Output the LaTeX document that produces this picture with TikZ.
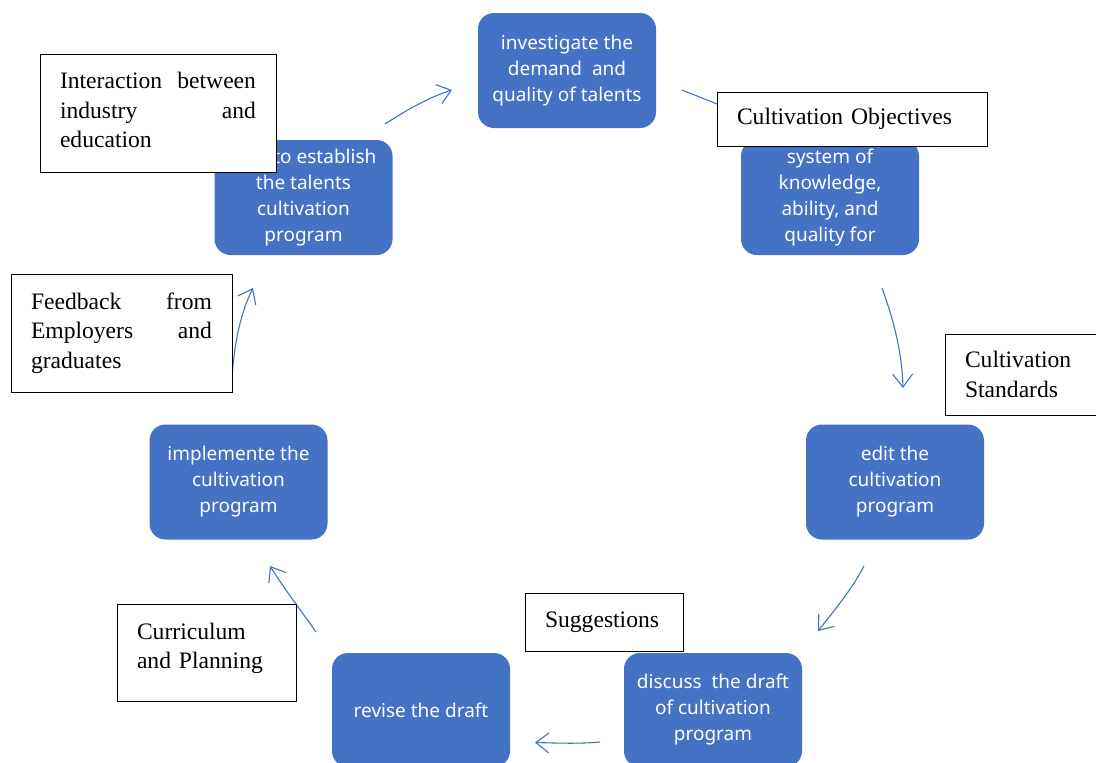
\documentclass[tikz,border=0pt]{standalone}
\usepackage{fontspec}
\setmainfont{Liberation Serif}
\newfontfamily\boxsans{Noto Sans}
\usetikzlibrary{arrows.meta}
\definecolor{bfill}{HTML}{4472C4}
\tikzset{
  stepbox/.style={rounded corners=16pt, fill=bfill, minimum width=178pt, minimum height=115pt,
    text=white, font=\boxsans\fontsize{19}{26}\selectfont, align=center, inner sep=0pt},
  note/.style={draw=black, line width=1pt, fill=white, font=\fontsize{23.6}{29.5}\selectfont,
    inner xsep=20pt, inner ysep=0pt, align=left},
  arr/.style={draw=bfill, line width=1.1pt, -{Straight Barb[length=13pt,width=20pt,line width=1.1pt]}},
  plain/.style={draw=bfill, line width=1.1pt}
}
\begin{document}
\begin{tikzpicture}[x=1pt,y=-1pt]
\path[use as bounding box, clip] (0,0) rectangle (1096,763);
\fill[white] (0,0) rectangle (1096,763);
% process boxes
\node[stepbox] (inv) at (567,70.5) {investigate the\\demand\ \ and\\quality of talents};
\node[stepbox] (sys) at (830,197.5) {system of\\knowledge,\\ability, and\\quality for};
\node[stepbox] (est) at (303.5,197.5) {\phantom{how }to establish\\the talents\\cultivation\\program};
\node[stepbox] (edit) at (895,482) {edit the\\cultivation\\program};
\node[stepbox] (impl) at (238.5,482) {implemente the\\cultivation\\program};
\node[stepbox, minimum height=114pt] (disc) at (713,710) {discuss\ \ the draft\\of cultivation\\program};
\node[stepbox, minimum height=114pt] (rev) at (421,710) {revise the draft};
% connector coordinates
\coordinate (a1) at (385,124); \coordinate (a2) at (452,90);
\coordinate (b1) at (682,90);  \coordinate (b2) at (722,106);
\coordinate (c1) at (882,288); \coordinate (c2) at (903,388);
\coordinate (d1) at (864,566); \coordinate (d2) at (818,631);
\coordinate (e1) at (600,742); \coordinate (e2) at (535,742.5);
\coordinate (f1) at (316,632); \coordinate (f2) at (270,566);
\coordinate (g1) at (232,380); \coordinate (g2) at (253,288);
\draw[arr] (a1) .. controls (410,108) and (430,97) .. (a2);
\draw[plain] (b1) -- (b2);
\draw[arr] (c1) .. controls (892,315) and (902,350) .. (c2);
\draw[arr] (d1) .. controls (853,588) and (833,612) .. (d2);
\draw[arr] (e1) .. controls (580,744) and (555,743) .. (e2);
\draw[arr] (f1) .. controls (305,616) and (285,590) .. (f2);
\draw[arr] (g1) .. controls (234,340) and (242,310) .. (g2);
% notes
\node[note, text width=196pt, minimum height=118pt] (inter) at (158,113)
  {\raisebox{3pt}[\height][\depth]{\parbox{196pt}{Interaction\hfill between\\industry\hfill and\\education}}};
\node[note, text width=230pt, minimum height=54pt] (obj) at (852,119) {Cultivation Objectives};
\node[note, text width=140pt, minimum height=81pt] (std) at (1035,374.5) {Cultivation\\Standards};
\node[note, text width=181pt, minimum height=118pt] (feed) at (121.5,333)
  {Feedback\hfill from\\Employers\hfill and\\graduates};
\node[note, text width=139pt, minimum height=97pt] (curr) at (206.5,652.5)
  {\raisebox{4pt}[\height][\depth]{\parbox{139pt}{Curriculum\\and Planning}}};
\node[note, text width=118pt, minimum height=58pt] (sugg) at (604,622) {Suggestions};
\end{tikzpicture}
\end{document}
